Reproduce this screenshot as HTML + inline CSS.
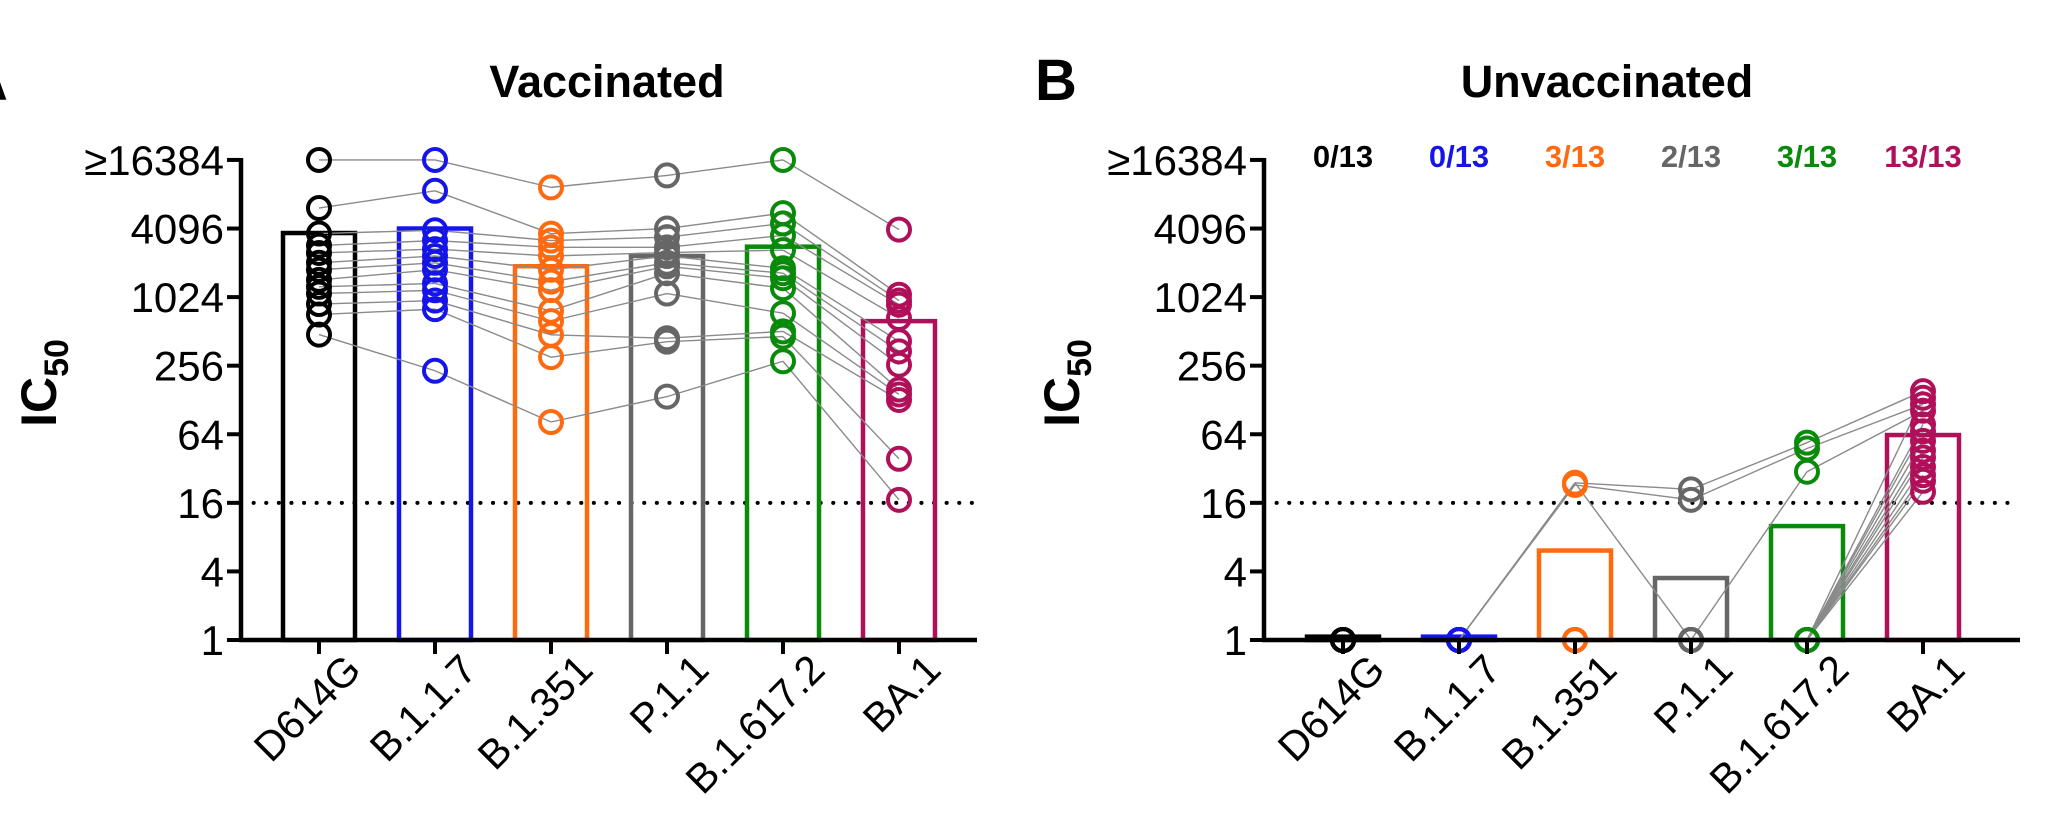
<!DOCTYPE html>
<html><head><meta charset="utf-8"><style>
html,body{margin:0;padding:0;background:#fff;}
svg{display:block;font-family:"Liberation Sans",Arial,sans-serif;}
</style></head><body>
<svg id="chart" width="2048" height="840" viewBox="0 0 2048 840" xmlns="http://www.w3.org/2000/svg">
<text x="-34" y="100" font-size="58" font-weight="bold">A</text>
<text x="1035" y="100" font-size="58" font-weight="bold">B</text>
<text x="607" y="97" font-size="45" font-weight="bold" text-anchor="middle">Vaccinated</text>
<text x="1607" y="97" font-size="45" font-weight="bold" text-anchor="middle">Unvaccinated</text>
<g id="plots"></g>
</svg>
<script>
const categories = ["D614G","B.1.1.7","B.1.351","P.1.1","B.1.617.2","BA.1"];
const colors = ["#000000","#1515e8","#ff6a10","#666666","#0a8a0a","#b0105a"];
const yTicks = [1,4,16,64,256,1024,4096,16384];
const yTickLabels = ["1","4","16","64","256","1024","4096","\u226516384"];
const vacBars = [3740,4096,1911,2350,2837,630];
const vacD614G = [16384,6200,3700,2900,2500,2048,1780,1450,1260,1100,890,720,480];
const vacB117 = [16384,8780,3956,3214,2702,2353,2048,1783,1351,1176,955,803,231];
const vacB1351 = [9410,3690,3210,2800,2350,1780,1400,1180,776,630,478,304,82];
const vacP11 = [11990,4096,3440,2800,2520,2350,2048,1910,1660,1100,446,416,137];
const vacB16172 = [16384,5595,4540,3565,2647,1833,1660,1500,1226,739,512,461,280];
const vacBA1 = [4010,1075,955,879,671,419,342,261,158,143,128,39,17];
const unvBars = [1.07,1.07,6.1,3.5,10,63];
const unvD614G = [1,1,1,1,1,1,1,1,1,1,1,1,1];
const unvB117 = [1,1,1,1,1,1,1,1,1,1,1,1,1];
const unvB1351 = [24,24,23,1,1,1,1,1,1,1,1,1,1];
const unvP11 = [21,1,17,1,1,1,1,1,1,1,1,1,1];
const unvB16172 = [54,1,48,30,1,1,1,1,1,1,1,1,1];
const unvBA1 = [153,134,117,103,78,68,56,46,40,33,28,25,20];
const fractions = ["0/13","0/13","3/13","2/13","3/13","13/13"];
const threshold = 16;

const NS = "http://www.w3.org/2000/svg";
const root = document.getElementById("plots");
function mk(tag, attrs, parent){const e=document.createElementNS(NS,tag);for(const k in attrs)e.setAttribute(k,attrs[k]);(parent||root).appendChild(e);return e;}
function yScale(v){return 640 - Math.log2(v)*34.29;}

function panel(prefix, axisX, catX0, xEnd, bars, series, showFractions){
  const g = mk("g",{});
  
  
  const xScale = i => catX0 + i*116;
  const dl = mk("line",{x1:axisX,x2:xEnd,y1:yScale(threshold),y2:yScale(threshold),stroke:"#000","stroke-width":4,"stroke-dasharray":"0.1 12.5","stroke-linecap":"round"},g);
  
  
  bars.forEach((v,i)=>{
    const top = yScale(v);
    const r = mk("rect",{x:xScale(i)-36,y:top,width:72,height:Math.max(640-top,0.5),fill:"none",stroke:colors[i],"stroke-width":4.5},g);
    
    
  });
  for(let s=0;s<13;s++){
    for(let i=0;i<series.length-1;i++){
      const l = mk("line",{x1:xScale(i),y1:yScale(series[i][s]),x2:xScale(i+1),y2:yScale(series[i+1][s]),stroke:"#8a8a8a","stroke-width":1.4},g);
      
      
    }
  }
  series.forEach((arr,i)=>{
    arr.forEach(v=>{
      const c = mk("circle",{cx:xScale(i),cy:yScale(v),r:11,fill:"none",stroke:colors[i],"stroke-width":4},g);
      
      
    });
  });
  const ya = mk("line",{x1:axisX,x2:axisX,y1:yScale(16384)-2,y2:642,stroke:"#000","stroke-width":4.5},g);
  
  
  const xa = mk("line",{x1:axisX-2,x2:xEnd,y1:640,y2:640,stroke:"#000","stroke-width":4.5},g);
  
  
  yTicks.forEach((t,k)=>{
    const y = yScale(t);
    const tk = mk("line",{x1:axisX-14,x2:axisX,y1:y,y2:y,stroke:"#000","stroke-width":4},g);
    
    
    const tx = mk("text",{x:axisX-17,y:y+15,"font-size":42,"text-anchor":"end"},g);
    tx.textContent = yTickLabels[k];
    
    
  });
  categories.forEach((c,i)=>{
    const x = xScale(i);
    const tk = mk("line",{x1:x,x2:x,y1:640,y2:654,stroke:"#000","stroke-width":4},g);
    
    
    const ax = x+44, ay = 672;
    const tx = mk("text",{x:ax,y:ay,"font-size":41,"text-anchor":"end",transform:"rotate(-45 "+ax+" "+ay+")"},g);
    tx.textContent = c;
    
    
    if(showFractions){
      const f = mk("text",{x:x,y:167,"font-size":31,"font-weight":"bold","text-anchor":"middle",fill:colors[i]},g);
      f.textContent = fractions[i];
      
      
    }
  });
  const yt = mk("text",{x:0,y:0,"font-size":50,"font-weight":"bold",transform:"translate("+(axisX-185)+" 383) rotate(-90)","text-anchor":"middle"},g);
  
  
  const t1 = mk("tspan",{},yt); t1.textContent="IC";
  const t2 = mk("tspan",{"font-size":34,dy:12},yt); t2.textContent="50";
}
panel("vaccinated",241,319,977,vacBars,[vacD614G,vacB117,vacB1351,vacP11,vacB16172,vacBA1],false);
panel("unvaccinated",1264,1343,2020,unvBars,[unvD614G,unvB117,unvB1351,unvP11,unvB16172,unvBA1],true);
</script>
</body></html>
